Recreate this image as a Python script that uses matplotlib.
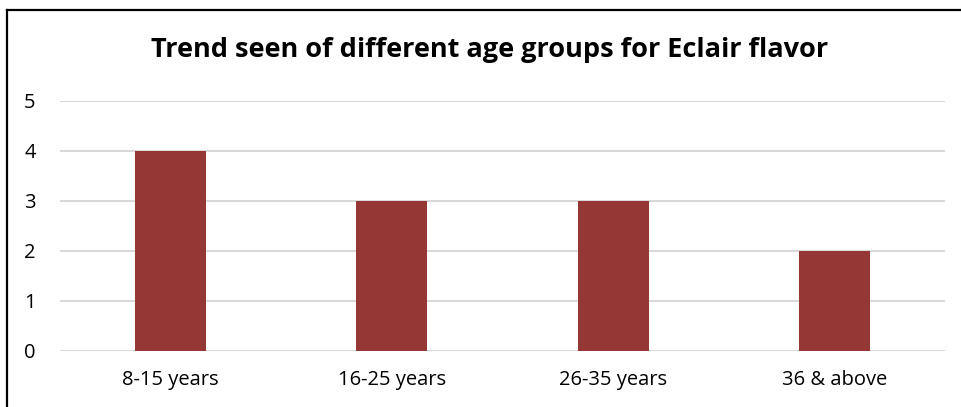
import matplotlib
matplotlib.use("Agg")
import matplotlib.pyplot as plt
from matplotlib.lines import Line2D

categories = ["8-15 years", "16-25 years", "26-35 years", "36 & above"]
counts = [4, 3, 3, 2]
title = "Trend seen of different age groups for Eclair flavor"

W, H = 962, 407
fig = plt.figure(figsize=(W / 100, H / 100), dpi=100)
plt.rcParams["font.family"] = ["Open Sans", "DejaVu Sans"]

ax = fig.add_axes([60 / W, 1 - 351 / H, 885 / W, 250 / H])
x = range(len(categories))
ax.bar(x, counts, width=0.32, color="#953735", zorder=3)
ax.set_xlim(-0.5, len(categories) - 0.5)
ax.set_ylim(0, 5)
ax.set_yticks(range(0, 6))
ax.set_xticks(list(x))
ax.set_xticklabels(categories)
ax.yaxis.grid(True, color="#d9d9d9", linewidth=1.5, zorder=0)
for s in ax.spines.values():
    s.set_visible(False)
ax.tick_params(axis="both", length=0, labelsize=14.5, colors="#000000")
ax.tick_params(axis="y", pad=17.5)
ax.tick_params(axis="x", pad=14)

fig.text(0.5 * (160 + 820) / W, 1 - 50 / H, title, ha="center", va="center",
         fontsize=19.5, fontweight="bold")

# frame lines along the left and top of the figure
fig.add_artist(Line2D([7.5 / W, 7.5 / W], [0, 1 - 9.5 / H], color="black", linewidth=1.6))
fig.add_artist(Line2D([7.5 / W, 1], [1 - 9.5 / H, 1 - 9.5 / H], color="black", linewidth=1.6))

fig.savefig("out.png", dpi=100)
